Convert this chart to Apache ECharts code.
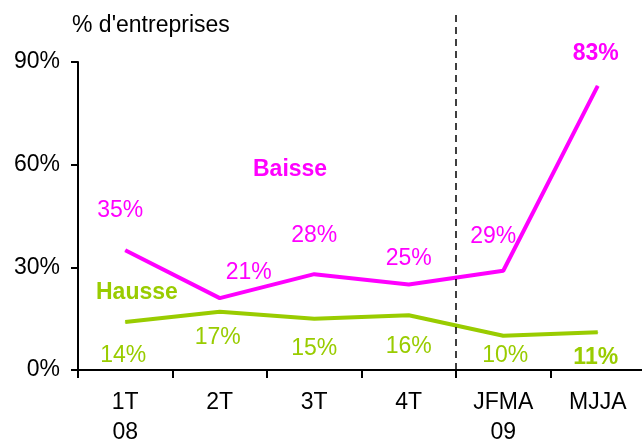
<!DOCTYPE html>
<html lang="fr">
<head>
    <meta charset="UTF-8">
    <title>Baisse / Hausse</title>
    <script src="https://cdn.jsdelivr.net/npm/echarts@6/dist/echarts.min.js"></script>
    <style>
        * { margin: 0; padding: 0; }
        body { background: #fff; }
        #chart { width: 642px; height: 441px; }
    </style>
</head>
<body>
    <div id="chart"></div>
    <script>
        // données
        const categories = ['1T\n08', '2T', '3T', '4T', 'JFMA\n09', 'MJJA'];
        const baisse = [35, 21, 28, 25, 29, 83];
        const hausse = [14, 17, 15, 16, 10, 11];
        const yTicks = [0, 30, 60, 90];

        const FONT = '"Liberation Sans", Arial, sans-serif';
        const FS = 23;
        const MAGENTA = '#ff00ff';
        const GREEN = '#99cc00';

        // décalages des étiquettes (style)
        const baisseOff = [[-5, -23], [29, -8], [0, -22], [0, -9], [-10, -17], [-2, -15]];
        const hausseOff = [[-2, 17], [-2, 9], [0, 13], [0, 14], [2, 3], [-2, 8]];

        function labelled(values, offs, pos, color) {
            return values.map((v, i) => ({
                value: v,
                label: {
                    show: true, position: pos, distance: 5, offset: offs[i],
                    color: color, fontSize: FS, fontFamily: FONT,
                    fontWeight: i === values.length - 1 ? 'bold' : 'normal',
                    formatter: '{c}%'
                }
            }));
        }

        const chart = echarts.init(document.getElementById('chart'));
        chart.setOption({
            animation: false,
            title: {
                text: "% d'entreprises", left: 67, top: 9,
                textStyle: { fontSize: FS, fontWeight: 'normal', color: '#000', fontFamily: FONT }
            },
            grid: [
                { left: 78, top: 62, width: 567, height: 308, outerBoundsMode: 'none', containLabel: false },
                { left: 78, top: 15, width: 567, height: 355, outerBoundsMode: 'none', containLabel: false }
            ],
            xAxis: [{
                type: 'category', data: categories, gridIndex: 0,
                axisLine: { lineStyle: { color: '#000', width: 2 } },
                axisTick: { show: true, length: 8, lineStyle: { color: '#000', width: 2 } },
                axisLabel: { color: '#000', fontSize: FS, fontFamily: FONT, lineHeight: 30, margin: 18 }
            }, {
                type: 'value', gridIndex: 1, min: -0.5, max: 5.5, show: false
            }],
            yAxis: [{
                type: 'value', gridIndex: 0, min: 0, max: 90, interval: 30,
                axisLine: { show: true, lineStyle: { color: '#000', width: 2 } },
                axisTick: { show: true, length: 7, lineStyle: { color: '#000', width: 2 } },
                axisLabel: {
                    color: '#000', fontSize: FS, fontFamily: FONT, margin: 18,
                    formatter: v => yTicks.includes(v) ? v + '%' : ''
                },
                splitLine: { show: false }
            }, {
                type: 'value', gridIndex: 1, min: 0, max: 1, show: false
            }],
            series: [{
                name: 'Baisse', type: 'line', data: labelled(baisse, baisseOff, 'top', MAGENTA),
                symbol: 'circle', symbolSize: 1,
                lineStyle: { color: MAGENTA, width: 4 }, itemStyle: { color: MAGENTA }
            }, {
                name: 'Hausse', type: 'line', data: labelled(hausse, hausseOff, 'bottom', GREEN),
                symbol: 'circle', symbolSize: 1,
                lineStyle: { color: GREEN, width: 4 }, itemStyle: { color: GREEN }
            }, {
                type: 'line', xAxisIndex: 1, yAxisIndex: 1, data: [],
                markLine: {
                    silent: true, symbol: 'none', label: { show: false },
                    lineStyle: { color: '#000', type: [7, 5], width: 1.5 },
                    data: [{ xAxis: 3.5 }]
                }
            }],
            graphic: [
                { type: 'text', left: 253, top: 158,
                  style: { text: 'Baisse', fill: MAGENTA, font: 'bold 23px ' + FONT } },
                { type: 'text', left: 96, top: 281,
                  style: { text: 'Hausse', fill: GREEN, font: 'bold 23px ' + FONT } }
            ]
        });
    </script>
</body>
</html>
